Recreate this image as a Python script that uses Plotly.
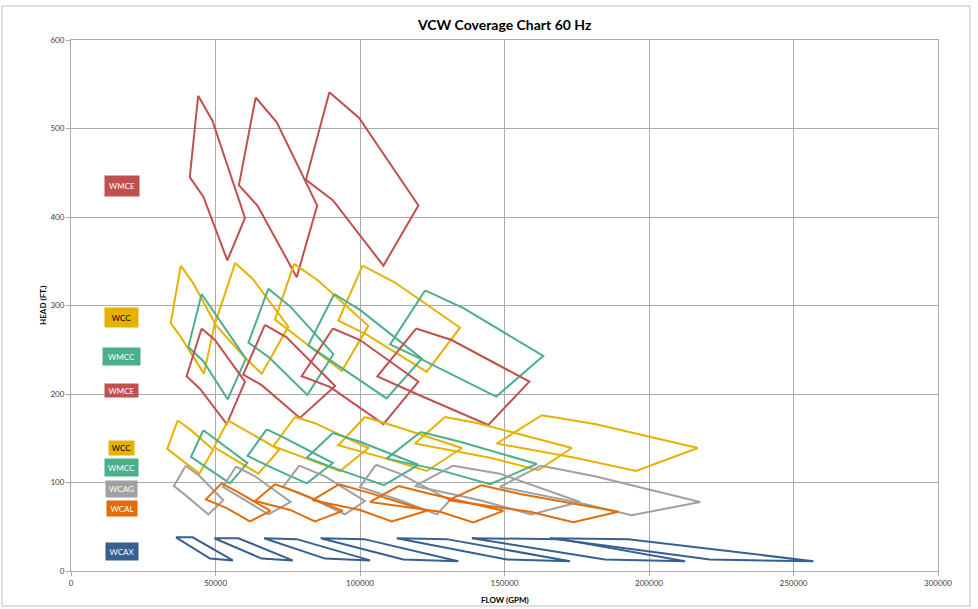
import plotly.graph_objects as go

# ---------------- data (flow in GPM, head in ft) ----------------
WMCE_HI_FLOW = [
    [44000, 48900, 60200, 54100, 45800, 41100],
    [63900, 71200, 85200, 78100, 64500, 58100],
    [89400, 99700, 120200, 108100, 90600, 81300],
]
WMCE_HI_HEAD = [
    [537, 509, 399, 351, 423, 445],
    [535, 507, 413, 332, 413, 436],
    [541, 512, 413, 345, 419, 442],
]

WCC_MID_FLOW = [
    [38000, 42300, 49800, 46000, 38100, 34500],
    [56800, 62900, 75200, 66000, 60200, 49800],
    [77200, 85600, 102900, 93700, 82100, 70600],
    [100900, 112100, 134600, 123100, 102300, 92500],
]
WCC_MID_HEAD = [
    [345, 325, 280, 223, 264, 280],
    [348, 330, 276, 223, 241, 279],
    [347, 328, 277, 226, 255, 284],
    [345, 326, 275, 225, 267, 283],
]

WMCC_MID_FLOW = [
    [45200, 60500, 54200, 45800, 40600],
    [68300, 75800, 90800, 81800, 68300, 61400],
    [91100, 100000, 121400, 109200, 82100],
    [122500, 135800, 163400, 147100, 119600, 110400],
]
WMCC_MID_HEAD = [
    [313, 240, 194, 237, 253],
    [319, 299, 245, 199, 242, 258],
    [313, 295, 240, 195, 255],
    [317, 297, 243, 197, 242, 256],
]

WMCE_MID_FLOW = [
    [45200, 49800, 60200, 53900, 44600, 40000],
    [67100, 74600, 91400, 79200, 66000, 59600],
    [90600, 100000, 120200, 108100, 89600, 79800],
    [119400, 131700, 158600, 144400, 119600, 106000],
]
WMCE_MID_HEAD = [
    [274, 261, 214, 166, 206, 220],
    [278, 264, 209, 173, 210, 222],
    [274, 261, 214, 166, 208, 220],
    [274, 261, 214, 165, 200, 220],
]

WCC_LOW_FLOW = [
    [36900, 41200, 49200, 44400, 33300],
    [54400, 60200, 72100, 64800, 58500, 49500],
    [77500, 84400, 102900, 93100, 81600, 70000],
    [101700, 112700, 135300, 123100, 109200, 92500],
    [129400, 140800, 173300, 161700, 145000, 119000],
    [162900, 181300, 216900, 195500, 174400, 147300],
]
WCC_LOW_HEAD = [
    [170, 160, 137, 110, 138],
    [170, 159, 137, 110, 122, 140],
    [174, 167, 139, 113, 127, 141],
    [174, 163, 139, 113, 127, 142],
    [174, 167, 139, 114, 128, 144],
    [176, 166, 139, 113, 128, 144],
]

WMCC_LOW_FLOW = [
    [45800, 61000, 55000, 41500],
    [67700, 73500, 90600, 81600, 70000, 61100],
    [90600, 100000, 120200, 108300, 93100, 81600],
    [121000, 134600, 161200, 145000, 127700, 109200],
]
WMCC_LOW_HEAD = [
    [159, 122, 99, 129],
    [160, 151, 122, 99, 116, 130],
    [156, 146, 120, 97, 114, 128],
    [157, 146, 121, 98, 114, 127],
]

WCAG_FLOW = [
    [39700, 44600, 52700, 47500, 39500, 35600],
    [57100, 63700, 76000, 68300, 60200, 52600],
    [79000, 87900, 101700, 94800, 84400, 73400],
    [105500, 113800, 131100, 126600, 113800, 100000],
    [132200, 148400, 176100, 159200, 141500, 119000],
    [162600, 181300, 217700, 194000, 176100, 148400],
]
WCAG_HEAD = [
    [119, 107, 80, 64, 86, 96],
    [118, 107, 78, 64, 80, 95],
    [119, 107, 79, 64, 80, 95],
    [120, 110, 80, 64, 80, 95],
    [119, 110, 78, 64, 80, 96],
    [119, 107, 78, 63, 77, 95],
]

WCAL_FLOW = [
    [52100, 57300, 69000, 61900, 53900, 46700],
    [70600, 79200, 94000, 84400, 75800, 63700],
    [92700, 103500, 123100, 111000, 100000, 83600],
    [113300, 124400, 149600, 139200, 127700, 103500],
    [142100, 155400, 189400, 173800, 158800, 130600],
]
WCAL_HEAD = [
    [99, 90, 68, 56, 71, 81],
    [98, 88, 68, 56, 69, 79],
    [98, 88, 68, 56, 69, 80],
    [96, 87, 68, 55, 67, 78],
    [97, 87, 67, 55, 67, 80],
]

WCAX_FLOW = [
    [36300, 42100, 56000, 48100],
    [49600, 57900, 76700, 66000],
    [66800, 78100, 103500, 87900],
    [86400, 101400, 134000, 115000],
    [112700, 130000, 172700, 150800],
    [138700, 169200, 212500, 184800],
    [165700, 192800, 256900, 221100],
]
WCAX_HEAD = [
    [38, 38, 12, 14],
    [37, 37, 12, 14],
    [37, 36, 12, 14],
    [37, 36, 11, 13],
    [37, 36, 11, 13],
    [37, 36, 11, 13],
    [37, 36, 11, 13],
]

X_TICKS = [0, 50000, 100000, 150000, 200000, 250000, 300000]
Y_TICKS = [0, 100, 200, 300, 400, 500, 600]

# labels: (text, head position)
LABEL_TEXT = ["WMCE", "WCC", "WMCC", "WMCE", "WCC", "WMCC", "WCAG", "WCAL", "WCAX"]
LABEL_HEAD = [435, 287, 242, 204.5, 139, 117.5, 93, 71, 22]

# ---------------- styling ----------------
RED = "#C0504D"
YELLOW = "#E5B200"
GREEN = "#4DAE8C"
GREY = "#A0A0A0"
ORANGE = "#E36C0A"
BLUE = "#35608F"
FONT = "Lato"

fig = go.Figure()


def add_family(name, flows, heads, color):
    xs, ys = [], []
    for f, h in zip(flows, heads):
        xs += list(f) + [f[0], None]
        ys += list(h) + [h[0], None]
    fig.add_trace(go.Scatter(x=xs, y=ys, mode="lines", name=name,
                             line=dict(color=color, width=2),
                             connectgaps=False, showlegend=False))


add_family("WMCE", WMCE_HI_FLOW, WMCE_HI_HEAD, RED)
add_family("WCC", WCC_MID_FLOW, WCC_MID_HEAD, YELLOW)
add_family("WMCC", WMCC_MID_FLOW, WMCC_MID_HEAD, GREEN)
add_family("WMCE", WMCE_MID_FLOW, WMCE_MID_HEAD, RED)
add_family("WCC", WCC_LOW_FLOW, WCC_LOW_HEAD, YELLOW)
add_family("WMCC", WMCC_LOW_FLOW, WMCC_LOW_HEAD, GREEN)
add_family("WCAG", WCAG_FLOW, WCAG_HEAD, GREY)
add_family("WCAL", WCAL_FLOW, WCAL_HEAD, ORANGE)
add_family("WCAX", WCAX_FLOW, WCAX_HEAD, BLUE)

label_colors = [RED, YELLOW, GREEN, RED, YELLOW, GREEN, GREY, ORANGE, BLUE]
label_text_colors = ["white", "black", "white", "white", "black", "white", "white", "white", "white"]
label_w = [34, 33, 37, 33, 25, 33, 31, 30, 32]
label_h = [20, 19, 17, 13, 14, 17, 16, 15, 17]

annotations = []
for t, h, bc, tc, w, hh in zip(LABEL_TEXT, LABEL_HEAD, label_colors, label_text_colors, label_w, label_h):
    annotations.append(dict(x=17500, y=h, xref="x", yref="y", text=t, showarrow=False,
                            bgcolor=bc, font=dict(family=FONT, size=8, color=tc),
                            width=w, height=hh, borderpad=0, align="center", valign="middle"))

annotations.append(dict(text="<b>FLOW (GPM)</b>", x=0.5, y=-0.042, xref="paper", yref="paper",
                        xanchor="center", yanchor="top", showarrow=False,
                        font=dict(family=FONT, size=8, color="#000000")))
annotations.append(dict(text="<b>HEAD (FT.)</b>", x=-0.033, y=0.5, xref="paper", yref="paper",
                        xanchor="center", yanchor="middle", textangle=-90, showarrow=False,
                        font=dict(family=FONT, size=8, color="#000000")))

axis_common = dict(showgrid=True, gridcolor="#ABABAB", gridwidth=1, zeroline=False,
                   showline=True, linecolor="#ABABAB", linewidth=1, mirror=True,
                   ticks="outside", ticklen=4, tickcolor="#ABABAB",
                   tickfont=dict(family=FONT, size=8, color="#404040"))

fig.update_layout(
    width=978, height=609,
    margin=dict(l=71, r=40, t=40, b=38),
    paper_bgcolor="white", plot_bgcolor="white",
    title=dict(text="<b>VCW Coverage Chart 60 Hz</b>", x=0.516, xanchor="center",
               y=0.959, yanchor="middle", font=dict(family=FONT, size=14, color="#000000")),
    xaxis=dict(range=[0, 300000], tickvals=X_TICKS, ticktext=[str(v) for v in X_TICKS], **axis_common),
    yaxis=dict(range=[0, 600], tickvals=Y_TICKS, ticktext=[str(v) for v in Y_TICKS], **axis_common),
    annotations=annotations,
    shapes=[dict(type="rect", xref="paper", yref="paper", x0=-0.0796, x1=1.0369,
                 y0=-0.0659, y1=1.064, line=dict(color="#BFBFBF", width=1),
                 fillcolor="rgba(0,0,0,0)", layer="below")],
    showlegend=False,
)

fig.write_html("out.html", config={"displayModeBar": False},
               post_script="document.body.style.margin='0px';document.body.style.overflow='hidden';")
